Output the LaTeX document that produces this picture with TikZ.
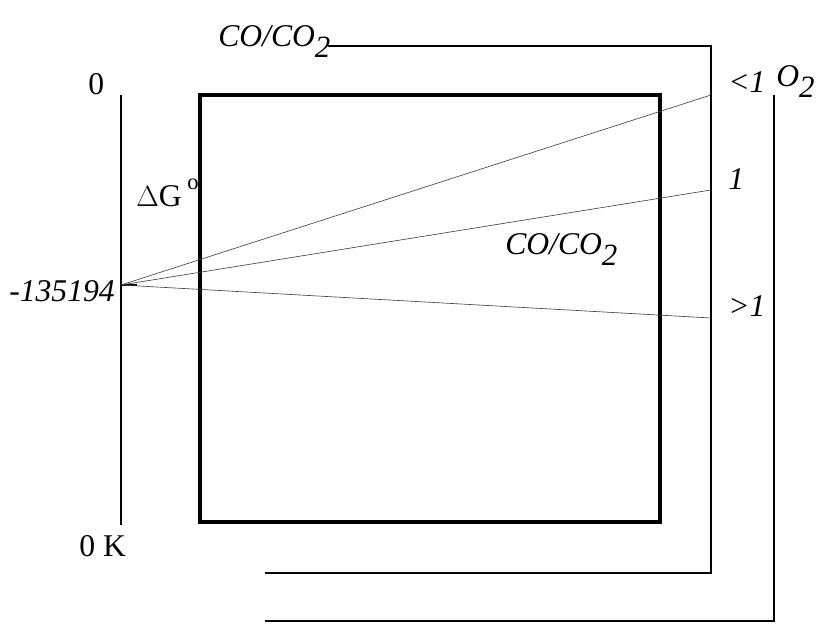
\documentclass[tikz,border=0pt]{standalone}
\usepackage{fontspec}
\setmainfont{Liberation Serif}
\newcommand{\lowsub}[1]{\raisebox{-0.7ex}{\fontsize{22}{22}\selectfont #1}}

\begin{document}
\begin{tikzpicture}
        [x = 0.025cm, y = -0.025cm, font = \fontsize{22.5}{26}\selectfont,
         box/.style = {line width = 2.4pt},
         bracket/.style = {line width = 1.9pt},
         ray/.style = {line width = 0.45pt, black!75},
         lbl/.style = {inner sep = 0pt, anchor = base west}]
        \useasboundingbox (0,0) rectangle (825,642);
        \coordinate (top) at (121,95);
        \coordinate (bot) at (121,525);
        \coordinate (orig) at (121,285);
        \coordinate (tick) at (137,285);
        \draw[line width = 1.5pt] (top) -- (bot);
        \draw[line width = 1.5pt] (orig) -- (tick);
        \node[lbl] (zero) at (88,95) {0};
        \node[lbl] (zeroK) at (79,557) {0 K};
        \node[lbl, anchor = base east] (dg0) at (115,302) {\textit{-135194}};
        \node[lbl] (dG) at (136,207) {$\Delta$G};
        \node[lbl, font = \fontsize{16}{16}\selectfont] (deg) at (187,190) {o};
        \draw[box] (200,95) rectangle (660,522);
        \node[lbl] (ratioTop) at (218,47) {\textit{CO/CO\lowsub{2}}};
        \coordinate (mA) at (328,46);
        \coordinate (mB) at (711,46);
        \coordinate (mC) at (711,573);
        \coordinate (mD) at (265,573);
        \draw[bracket] (mA) -- (mB) -- (mC) -- (mD);
        \coordinate (oA) at (774,95);
        \coordinate (oB) at (774,621);
        \coordinate (oC) at (265,621);
        \draw[bracket] (oA) -- (oB) -- (oC);
        \coordinate (lt1) at (711,95);
        \coordinate (eq1) at (711,190);
        \coordinate (gt1) at (711,318);
        \draw[ray] (orig) -- (lt1);
        \draw[ray] (orig) -- (eq1);
        \draw[ray] (orig) -- (gt1);
        \node[lbl] (ltOne) at (728,93) {\textit{<1}};
        \node[lbl] (eqOne) at (728,190) {\textit{1}};
        \node[lbl] (gtOne) at (728,317) {\textit{>1}};
        \node[lbl] (oxy) at (776,87) {\textit{O\lowsub{2}}};
        \node[lbl] (ratioMid) at (505,255) {\textit{CO/CO\lowsub{2}}};
      \end{tikzpicture}
\end{document}
